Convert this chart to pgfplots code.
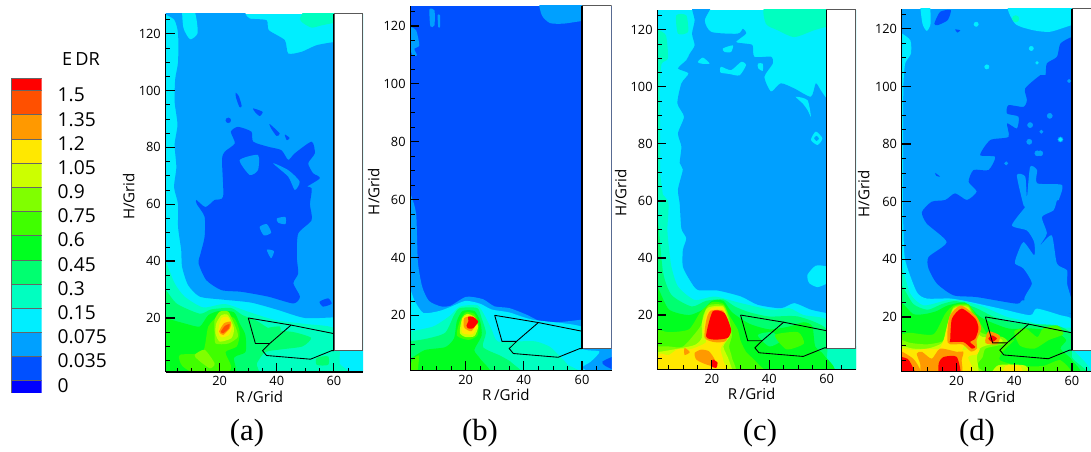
\documentclass[border=0pt]{standalone}
\usepackage{fontspec}
\setmainfont{Open Sans}
\newfontfamily\capfont{Liberation Serif}
\usepackage{pgfplots}
\pgfplotsset{compat=1.18}
\definecolor{La}{HTML}{0000FF}
\definecolor{Lb}{HTML}{0050FF}
\definecolor{Lc}{HTML}{00A0FF}
\definecolor{Ld}{HTML}{00EEFF}
\definecolor{Le}{HTML}{00FFC0}
\definecolor{Lf}{HTML}{00FF70}
\definecolor{Lg}{HTML}{00FF20}
\definecolor{Lh}{HTML}{40FF00}
\definecolor{Li}{HTML}{80FF00}
\definecolor{Lj}{HTML}{CCFF00}
\definecolor{Lk}{HTML}{FFE800}
\definecolor{Ll}{HTML}{FF9900}
\definecolor{Lm}{HTML}{FF5000}
\definecolor{Ln}{HTML}{FF0000}
\newcommand{\lay}[2]{\addplot[fill=#1,draw=none,forget plot,smooth cycle,tension=0.4] coordinates {#2};}
\newcommand{\base}[2]{\addplot[fill=#1,draw=none,forget plot] coordinates {#2} --cycle;}
\newcommand{\spots}[3]{\addplot[only marks,mark=*,mark size=#2,color=#1,mark options={draw=none,fill=#1},forget plot] coordinates {#3};}
\newcommand{\px}{0.75pt}
\newcommand{\frameparts}{%
 \addplot[fill=white,draw=black!65,line width=0.5pt,forget plot] coordinates {(60,8.5)(70,8.5)(70,127)(60,127)} --cycle;
 \addplot[black,line width=0.8pt,forget plot] coordinates {(60,8.5)(60,127)};
 \addplot[black,line width=0.65pt,forget plot] coordinates {(30,20)(32.5,11)(37.5,11)(45,17.5)(60,14.5)};
 \addplot[black,line width=0.65pt,forget plot] coordinates {(30,20)(45,17.5)};
 \addplot[black,line width=0.65pt,forget plot] coordinates {(37.5,11)(35,8.5)(36.4,6.8)(51.8,5.5)(59.2,8.5)(60,8.5)};
}
\pgfplotsset{panel/.style={
 scale only axis,anchor=south west,axis on top,
 ymin=1,ymax=127,xmin=1,
 axis lines*=left,axis line style={-,line width=1.1pt,black},
 xtick={20,40,60},ytick={20,40,60,80,100,120},
 minor xtick={5,10,15,25,30,35,45,50,55,65},
 minor ytick={5,10,15,25,30,35,45,50,55,65,70,75,85,90,95,105,110,115,125},
 tick align=inside,
 major tick length=6.75pt,minor tick length=3.2pt,
 major tick style={black,line width=0.9pt},
 minor tick style={black,line width=0.45pt},
 tick label style={font=\fontsize{9.6}{11}\selectfont,/pgf/number format/assume math mode=true},
 xlabel={R\,/Grid},ylabel={H/Grid},
 label style={font=\fontsize{11.3}{13}\selectfont},
 xlabel style={at={(axis description cs:0.475,-0.068)},anchor=center},
 ylabel style={at={(axis description cs:0,0.49)},anchor=center,yshift=27.5pt},
}}
\begin{document}
\begin{tikzpicture}[x=1pt,y=1pt]
\useasboundingbox (0,0) rectangle (818.25pt,339pt);
% colour bar
\begin{axis}[scale only axis,anchor=south west,at={(11*\px,59.3*\px)},width=30.7*\px,height=314.4*\px,
 xmin=0,xmax=1,ymin=-0.5,ymax=12.5,axis lines*=right,axis line style={draw=none},
 xtick=\empty,ytick={0,1,2,3,4,5,6,7,8,9,10,11,12},
 yticklabels={0,0.035,0.075,0.15,0.3,0.45,0.6,0.75,0.9,1.05,1.2,1.35,1.5},
 major tick length=0pt,
 yticklabel style={font=\fontsize{14.4}{16}\selectfont,anchor=west,xshift=8.5pt,yshift=-3.5pt}]
\addplot[fill=La,draw=black!60,line width=0.25pt] coordinates {(0,-0.5)(1,-0.5)(1,0)(0,0)} --cycle;
\addplot[fill=Lb,draw=black!60,line width=0.25pt] coordinates {(0,0)(1,0)(1,1)(0,1)} --cycle;
\addplot[fill=Lc,draw=black!60,line width=0.25pt] coordinates {(0,1)(1,1)(1,2)(0,2)} --cycle;
\addplot[fill=Ld,draw=black!60,line width=0.25pt] coordinates {(0,2)(1,2)(1,3)(0,3)} --cycle;
\addplot[fill=Le,draw=black!60,line width=0.25pt] coordinates {(0,3)(1,3)(1,4)(0,4)} --cycle;
\addplot[fill=Lf,draw=black!60,line width=0.25pt] coordinates {(0,4)(1,4)(1,5)(0,5)} --cycle;
\addplot[fill=Lg,draw=black!60,line width=0.25pt] coordinates {(0,5)(1,5)(1,6)(0,6)} --cycle;
\addplot[fill=Lh,draw=black!60,line width=0.25pt] coordinates {(0,6)(1,6)(1,7)(0,7)} --cycle;
\addplot[fill=Li,draw=black!60,line width=0.25pt] coordinates {(0,7)(1,7)(1,8)(0,8)} --cycle;
\addplot[fill=Lj,draw=black!60,line width=0.25pt] coordinates {(0,8)(1,8)(1,9)(0,9)} --cycle;
\addplot[fill=Lk,draw=black!60,line width=0.25pt] coordinates {(0,9)(1,9)(1,10)(0,10)} --cycle;
\addplot[fill=Ll,draw=black!60,line width=0.25pt] coordinates {(0,10)(1,10)(1,11)(0,11)} --cycle;
\addplot[fill=Lm,draw=black!60,line width=0.25pt] coordinates {(0,11)(1,11)(1,12)(0,12)} --cycle;
\addplot[fill=Ln,draw=black!60,line width=0.25pt] coordinates {(0,12)(1,12)(1,12.5)(0,12.5)} --cycle;
\end{axis}
\node[font=\fontsize{13.6}{15}\selectfont] at (81*\px,393*\px) {E\,DR};
% panel a
\begin{axis}[panel,at={(165.5*\px,80*\px)},width=197.5*\px,height=358.3*\px,xmax=70.2]
\base{Ld}{(1,1)(71,1)(71,127)(1,127)}
\lay{Lc}{(-1,129)(4,125)(5.4,120)(5.4,110)(4.4,104)(4.2,96)(5.2,88)(4.2,81)(4.8,73)(4,66)(5.4,60)(5.4,52)(6.5,43.9)(6.8,38)(8.9,31.6)(13,27.5)(20.6,26.5)(31,25.4)(40.5,22.8)(49.8,20)(60,20.2)(64,20)(64,117)(60,117)(53.9,115.9)(48.7,113.6)(44,113)(42.8,117.7)(37.2,121.2)(36.4,124.7)(30.5,125.3)(29,127)(28,130)}
\lay{Ld}{(7,129)(7.3,122)(9.6,118)(12.2,120)(11.9,124.8)(10.7,129)}
\lay{Le}{(48.1,125.3)(51,129)(63,129)(63,124.7)(55.7,122.9)(52.2,122.1)(49.2,123.7)}
\lay{Lb}{(12,60)(14.7,55.6)(14.7,48.5)(13.3,42.7)(12.6,39.2)(15.3,33.3)(20.6,29.8)(27.6,29.2)(37,27.5)(45.8,25.1)(48.1,27.5)(45.8,32.2)(47.5,35.7)(47,41.5)(47.5,49.7)(52.2,54.4)(51.6,60)(52.2,65.6)(48.7,66.2)(46.3,63.9)(55,69)(52.7,70.9)(51,74.4)(53.3,77.9)(52.2,82)(46.3,77.9)(44,75.6)(41.6,79)(37,80.2)(31.7,82)(31.1,85.5)(26.4,87.2)(23.9,85.5)(25.3,81.4)(21.8,78.5)(20.8,75.6)(21.2,62.7)(18.2,61.5)(15,59)(11.8,61.5)}
\lay{Lc}{(27,75.5)(33.4,77.3)(33.4,72)(30.5,70.3)}
\lay{Lc}{(38.7,74.4)(44,72)(48,68)(46.3,65)(44,69.7)}
\lay{Lc}{(34,52)(36.5,53)(38,50)(35.5,49)}
\lay{Lc}{(40,55)(43,55.5)(43,53)(40.5,53.5)}
\lay{Lc}{(36.5,44)(39,43.5)(38,41)}
\lay{Lb}{(55,25.7)(58,26.9)(59.2,25)(56.2,24)}
\lay{Lb}{(25.6,99.2)(26.7,98)(27.7,94.5)(26.9,94.2)(25.7,97.5)}
\lay{Lb}{(31.7,93.7)(35,92.5)(34,91)(32.3,92.5)}
\lay{Lb}{(37.5,88.2)(41,84.9)(39.9,84)(38,86.7)}
\lay{Lb}{(42.8,84.5)(44.5,83.3)(43.5,82.5)}
\spots{Lb}{1.8pt}{(23,89.5)}
\lay{Le}{(-1,39.8)(1,39.8)(4.2,32.2)(7.7,27.5)(14.2,23.7)(21.8,24.9)(30,22.2)(39.3,19.3)(49.8,17.9)(60,16.4)(60,8.5)(62,8.5)(62,4)(63,-1)(-1,-1)}
\lay{Lf}{(-1,31)(1,30)(5,25)(13,21.5)(17,23)(24,23.5)(28,21)(33,19)(38,16)(46,15)(52,13)(49,10)(42,9)(36,8)(33,4)(32,-1)(-1,-1)}
\lay{Lf}{(37,16.5)(41,17)(41,15)(37,14.5)}
\lay{Lf}{(54,6)(58,6.5)(58,3.5)(54,3.5)}
\lay{Lg}{(-1,21)(1,20)(8,18)(13,17)(16,21)(20,22.5)(25,22)(27,18)(29,14)(29,8)(25,6)(25,-1)(5,-1)(-1,5)}
\lay{Lh}{(14,8)(16,17)(20,21)(25,20)(27,15)(26,10)(22,8)(24,3)(22,-1)(14,-1)(7,3)(6,7)}
\lay{Li}{(18.2,14.6)(18.2,19.3)(20,22.2)(23,22.2)(25.3,17.5)(26.4,13.4)(23,11)(18.6,11)}
\lay{Li}{(11.2,7)(14.7,8.8)(18.2,4)(16.5,2.3)(12.4,5.3)}
\lay{Lj}{(18.5,14.6)(18.8,18.1)(20.6,21)(22.9,21)(25,16.4)(24.1,12.9)(20,11.7)}
\lay{Lk}{(19.4,15.2)(20.6,19.9)(22.9,20.2)(24.3,17)(23.2,14)(20.6,13.2)}
\lay{Ll}{(19.8,15.2)(21.5,18.1)(23.9,18.7)(23.6,16.4)(21.2,14)}
\lay{Lm}{(20.4,15.2)(21.8,17.2)(23.5,17.9)(23.2,16.4)(21.2,14.6)}
\frameparts
\end{axis}
% panel b
\begin{axis}[panel,at={(410.3*\px,81.7*\px)},width=201.4*\px,height=364.6*\px,xmax=70.2]
\base{Lb}{(1,1)(71,1)(71,127)(1,127)}
\lay{Lc}{(46.2,129)(46.2,123.7)(49,121)(53.6,120.8)(60,121.7)(63,121.7)(63,129)}
\lay{Lc}{(7.6,125.7)(9.3,125.4)(9.3,120.2)(7.9,119.9)}
\lay{Lc}{(10.4,123.7)(11.2,123.7)(11.2,119.7)(10.6,119.7)}
\lay{Lc}{(-1,119.7)(1,119.7)(3,118.5)(4.1,113.3)(2.4,112.1)(3.3,109.8)(1.8,109.8)(1,111.6)(-1,111.6)}
\lay{Lc}{(-1,62)(1,62)(3,55)(3.6,38.5)(5.1,29.8)(7.4,25)(11.4,23.1)(14.8,23.3)(20.2,26.4)(25.9,25.6)(29.9,23.1)(35,22.5)(41,20.2)(46.7,17.5)(53.7,17.8)(60,18.5)(62,18.5)(62,-1)(-1,-1)}
\base{Lc}{(60,8.5)(71,8.5)(71,1)(60,1)}
\lay{Ld}{(-1,29)(1,28.8)(2.5,25)(5.5,20.8)(11,21.5)(15,23)(20,25)(25,24)(29,22)(35,21)(43,18.5)(60,16)(60,8.5)(66,7.5)(63,4)(60,2)(60,-1)(-1,-1)}
\lay{Lb}{(67,4)(72,6)(72,1)(68,2.5)}
\lay{Le}{(-1,14)(1,14.4)(9,16.2)(14.8,20)(18,23)(24,23.5)(26.5,20)(29,15)(31,11)(38,11)(44,11)(49,9.1)(52.5,5.7)(55,3)(58,-1)(-1,-1)}
\lay{Lf}{(-1,11)(1,11)(7,12)(13,14)(16,20)(18,22.5)(24,22.5)(25.5,19)(27,14)(26,9)(32,6)(36,3.5)(38,-1)(-1,-1)}
\lay{Lg}{(-1,5)(1,5)(6,8)(13,9)(16,12)(17,18)(19,21.5)(23,21.5)(25,18)(25.5,13)(23,8)(25,5)(28,-1)(-1,-1)}
\lay{Lh}{(-1,3)(1,3)(2,5)(4,6)(3,-1)(-1,-1)}
\lay{Lh}{(17,13)(18,18)(20,21)(23,20.5)(24.5,17)(24,13)(21,11.5)}
\lay{Lj}{(18,14)(18.8,19)(20.5,20.5)(23,19.5)(24.3,16)(23,12.8)(20,12.5)}
\lay{Lk}{(18.6,14.3)(19,19)(21,20)(23,18.5)(24,16.5)(22.5,13.5)(20,13.5)}
\lay{Ll}{(19.4,16)(19.5,19)(21.5,19.5)(22.5,18.5)(23.6,17)(22,14.5)(20.5,15)}
\lay{Ln}{(20.8,19.5)(22.5,19.5)(24.3,17.8)(22.5,15.5)(20.8,15.5)(20.3,16.5)(21,18)}
\frameparts
\end{axis}
% panel c
\begin{axis}[panel,at={(657.3*\px,82.7*\px)},width=198.7*\px,height=359.6*\px,xmax=70.2]
\base{Ld}{(1,1)(71,1)(71,127)(1,127)}
\lay{Lc}{(13.1,129)(20,129)(17.5,123.3)(19.8,119.2)(29,118.6)(30.8,120.3)(31.9,118.6)(28.4,115.7)(31.9,115.1)(34.2,114.5)(34.8,110.5)(40.6,110.5)(41.2,108.1)(38.3,103.5)(40.6,98.3)(44,101.2)(48.7,99.4)(54.5,96.5)(56.2,101.2)(57.9,98.8)(60,95.9)(63,95)(63,20)(60,20.7)(54.5,21.9)(48.7,24.2)(44,22.4)(36,23.6)(30.2,26.5)(22,28.6)(15.1,28.8)(12.3,32.3)(9.9,37)(9.9,42.8)(11.1,46.9)(9.4,50.3)(8.8,59)(8.2,64)(9.9,71)(8.8,73.3)(9.4,79)(8.2,83.7)(10.3,89.5)(8,94.2)(9.4,101.2)(11.9,104.7)(8.2,106.4)(11.1,109.3)(12.3,111.6)(14,114.5)(13.1,118.6)(14,123.3)}
\lay{Ld}{(23.8,113.4)(27.3,114.5)(26.7,112.2)(24.4,112.2)}
\lay{Ld}{(15.1,108.7)(16.9,110.2)(19.2,108.1)(16.3,108.1)}
\lay{Ld}{(23.2,107)(26.7,105.8)(30.2,108.7)(31.9,107.6)(29.6,104)(26,104.5)(23,105)}
\lay{Ld}{(36,108.1)(37.7,108.1)(37.7,105.6)(36.2,106.4)}
\lay{Ld}{(49.2,96.5)(53.3,95.3)(54.5,89.5)(53.3,91.9)(51.6,94.2)}
\lay{Ld}{(54.5,81.4)(56.2,84.3)(58.5,81.9)(56.8,79.6)}
\lay{Lc}{(55.6,82)(56.5,82.8)(57.3,81.8)(56.4,81)}
\lay{Ld}{(53.3,34.1)(56.2,37.3)(60,37)(62,35)(62,32)(60,31)(56.8,29.8)(53.9,31.2)}
\lay{Le}{(39.4,129)(38.8,122.1)(42.9,119.8)(48.7,117.4)(55.6,119.8)(60,121)(63,121)(63,129)}
\lay{Le}{(7.6,125)(11.1,125)(11.7,119.2)(8.2,118.6)}
\lay{Le}{(-1,120)(1,120)(4,118)(4.7,110)(2.5,108)(1.8,100)(2,90)(2,70)(3,60)(-1,60)}
\lay{Le}{(-1,60)(4.7,60)(4.5,50)(5,44)(5.9,37)(8.2,30)(14,25.3)(21,26.5)(30,24.2)(40.6,21.9)(47,22.4)(52,20)(60,18.4)(62,10)(72,8.5)(72,-1)(-1,-1)}
\lay{Lf}{(-1,55)(1,55)(3,35)(6,27)(13,23)(18,25)(24,25.5)(28,23)(33,21)(40,19.5)(50,19.5)(60,15)(60,3)(62,-1)(-1,-1)}
\lay{Lg}{(-1,30)(1,30)(5,22)(12,20)(17,22)(20,25)(24,25)(27,21)(33,17)(40,15)(47,16)(52,17.5)(55,16)(56,9)(59,6)(60,-1)(-1,-1)}
\lay{Lf}{(36,13)(41,14)(44,11)(40,9)}
\lay{Lh}{(-1,15)(1,15)(5,14)(12,15)(16,21)(20,24.5)(24,24)(26,20)(29,15)(30,11)(32,7)(36,3)(37,-1)(-1,-1)}
\lay{Lh}{(42,13)(50,14)(52,10)(46,8)}
\lay{Li}{(-1,9)(1,9)(5,9)(10,9)(16,16)(17,20)(19,23.5)(24,23.5)(26,19)(27,13)(26,9)(27,5)(27,-1)(-1,-1)}
\lay{Lj}{(-1,7)(1,7)(7,8)(14,9.5)(16.5,12)(16.5,17)(18,22)(20,23)(24,23)(25.8,18)(26.5,13)(24,9)(26,4)(25.5,-1)(-1,-1)}
\lay{Lk}{(-1,5)(1,5)(2,6.5)(5,6)(8,8)(12,8)(14,8.5)(18,10.5)(17,14)(18,20)(20,22.5)(24,22.5)(25,18)(26,13)(24,10)(23,8)(24,4)(24,-1)(-1,-1)}
\lay{Ll}{(17.5,12)(18,18)(19.5,21.5)(24,21.5)(25.5,16)(25,11)(21,10.5)}
\lay{Ll}{(14,6.7)(16.3,7.9)(19,7.3)(21,4.4)(21,2)(17.5,2.9)(14.6,4.4)}
\lay{Ll}{(10.5,8.5)(12.3,7)(10.5,6)}
\lay{Ln}{(18,12.6)(20.3,21.3)(24.4,20.7)(26.7,14.9)(25.5,12)(21,11.4)}
\lay{Ln}{(20.3,4.4)(22,3.3)(21.5,1.5)(20,2)}
\frameparts
\end{axis}
% panel d
\begin{axis}[panel,at={(901.7*\px,80.3*\px)},width=189.3*\px,height=363*\px,xmax=66.6,
 ylabel style={yshift=1pt}]
\base{Lc}{(1,1)(71,1)(71,127)(1,127)}
\lay{Lb}{(60,117.2)(56,114.9)(54.8,110.3)(51.3,108)(50.8,103.9)(49,103.9)(43.8,99.3)(44.4,95.3)(43.2,92.9)(38,93.5)(37.5,90.6)(41.5,89.5)(40.9,85.4)(37.5,87.2)(38,82.5)(31.7,81.4)(28.2,76.2)(33.4,75.6)(31.1,71)(25.9,71)(24.2,66.9)(27,63.5)(23.6,60.6)(19.5,62.9)(16.1,60.6)(11.4,60)(8,56.4)(9.7,52.4)(16.6,46)(10.3,40.8)(10.3,36.8)(13.2,31.6)(19,27.5)(27,26.9)(40.9,24.6)(43.8,25.8)(60,21)(63,21)(63,117)}
\lay{Lc}{(43.8,25.2)(46.1,31.6)(43.2,36.8)(40.3,38.5)(40.9,41.4)(43.2,46)(46.9,41.4)(46.9,46)(44.4,50)(39.2,51.8)(43.8,58.2)(43.2,58.8)(40.9,69.2)(43.8,68.7)(44.4,61.7)(45.5,72.1)(47.9,71)(47.9,66.4)(56.5,65.8)(55.4,60.6)(54.8,60.5)(53.6,57)(49.6,54.7)(51.3,49)(49,44.9)(53,48.3)(54.8,38.5)(58.3,36.2)(58.3,31.6)(60,21.2)}
\spots{Lc}{1.9pt}{(45.5,86.6)(52.3,89.8)(45.2,80.8)(48,76.8)(49,76.8)(56,81.6)}
\spots{Lc}{1.2pt}{(49.4,84.3)(37.2,73.3)(59,101.9)}
\spots{Ld}{1.3pt}{(56,81.6)}
\lay{Lb}{(12.3,121.8)(14.3,125.9)(18,126.5)(16.9,123)(13.5,121.3)}
\lay{Lb}{(19.5,119.8)(21.3,119.5)(20.3,118.7)}
\lay{Lb}{(12.6,70)(14.3,68.7)(13,69)}
\lay{Ld}{(-1,118.4)(1,118.4)(4,116)(4.2,111.4)(2.2,108)(1.6,101)(1.5,90)(1.5,75)(1.4,60)(1.6,50)(2.2,39.7)(6.2,28.7)(9.7,26.4)(17.8,26.4)(24.7,25.2)(35.1,22.9)(45.5,20.6)(47.8,22.9)(56,20.6)(60,19.1)(62,10)(72,8)(72,-1)(-1,-1)}
\lay{Ld}{(7.5,129)(8.2,121.8)(9.7,119.3)(11,121.8)(10.6,129)}
\lay{Ld}{(38.6,129)(40.3,121.8)(46.7,119.5)(52.5,119)(60,121.3)(63,121.3)(63,129)}
\spots{Le}{2.4pt}{(40.5,123.5)}
\spots{Ld}{1.6pt}{(26.8,121.6)(45.9,113.2)(30.5,106.8)}
\spots{Ld}{1pt}{(47.9,108.2)}
\lay{Le}{(-1,37.3)(1,37.3)(4,28)(8.6,24)(16.6,25.8)(21.3,25.8)(29.4,23.5)(37.5,20)(45.5,18.3)(52.5,16)(60,16)(60,8)(61,8)(64,-1)(-1,-1)}
\lay{Lf}{(-1,31)(1,31)(5,24.5)(10,22.5)(15,24.5)(20,25.5)(27,23)(33,20)(40,18)(48,17.5)(55,17)(60,14)(60,6)(63,-1)(-1,-1)}
\lay{Lg}{(-1,25)(1,25)(5,21)(9,21)(13,22)(17,24)(23,25)(27,21)(30,19)(38,16)(46,16)(54,15)(58,12)(56,9)(60,5)(60,-1)(-1,-1)}
\lay{Lf}{(28,9.5)(30,10.5)(31,8)(29,7.5)}
\lay{Lh}{(-1,14)(1,14)(4,14.5)(12,14)(16,21)(19,24)(24,24.5)(27,20)(30,15)(33,12)(37,11)(40,12)(36,8)(35,5)(42,3)(50,3)(56,5)(57,-1)(-1,-1)}
\lay{Lh}{(40,15)(44,16)(48,13)(50,16)(55,17)(57,14)(52,12)(47,9)(42,10)}
\lay{Li}{(-1,12)(1,12)(4,11)(10,10.5)(16,12)(17,18)(19,23.5)(24,24)(26.5,19)(28,15)(30,14)(36,13)(38,11)(34,10)(30,9)(29,6)(27,3)(30,-1)(-1,-1)}
\lay{Lj}{(-1,10)(1,10)(5,9)(10,9)(15,11)(16.5,16)(19,23)(24,23.5)(26,19)(27.5,14.5)(29,13)(34,13)(36,11.5)(30,10)(28,9)(27,6)(26,-1)(-1,-1)}
\lay{Lj}{(32,-1)(34,3)(38,3.5)(44,3)(45,-1)}
\lay{Lk}{(-1,9)(1,9)(6,8.5)(10,9)(14,9)(16,13)(17,18)(19.5,23)(24,23)(26,18.5)(27,14)(24,12)(22,8.5)(25,9)(28,9)(27,7)(24,6)(25,-1)(-1,-1)}
\lay{Lk}{(36,-1)(37,3)(42,3)(43,-1)}
\lay{Ll}{(-1,8)(1,8)(5,5.5)(7,2.5)(8,-1)(-1,-1)}
\lay{Ln}{(-1,6.1)(1,6.1)(3.5,5)(6,-1)(-1,-1)}
\lay{Ll}{(6.2,7.3)(8,7.9)(11.4,5.5)(14.3,9)(20.1,7.9)(22.4,7.9)(21.8,5)(21.3,-1)(8.6,-1)(7.4,3.8)}
\lay{Ln}{(14.3,-1)(13.8,3.8)(15.5,6.1)(20.1,6.1)(21.3,-1)}
\lay{Ll}{(17,11)(17.5,20)(21.5,24)(27,20)(28.5,16)(27,12)(27,9)(25,8)(22,10.5)}
\lay{Ln}{(17.8,11.9)(18.4,19.4)(21.8,22.9)(26.5,19.4)(27.6,16)(26.5,12.5)(24.7,11.3)(26.5,9.6)(25.3,9)(22.4,11.3)(17.8,11.3)}
\lay{Ll}{(31,15)(35,13.5)(34,10.5)(30,11)}
\lay{Ln}{(32.3,13.6)(34,12.5)(32.3,11.3)(31,12.5)}
\frameparts
\end{axis}
\node[font=\capfont\fontsize{23}{26}\selectfont] at (247*\px,19*\px) {(a)};
\node[font=\capfont\fontsize{23}{26}\selectfont] at (480*\px,19*\px) {(b)};
\node[font=\capfont\fontsize{23}{26}\selectfont] at (760*\px,19*\px) {(c)};
\node[font=\capfont\fontsize{23}{26}\selectfont] at (977*\px,19*\px) {(d)};
\end{tikzpicture}
\end{document}
